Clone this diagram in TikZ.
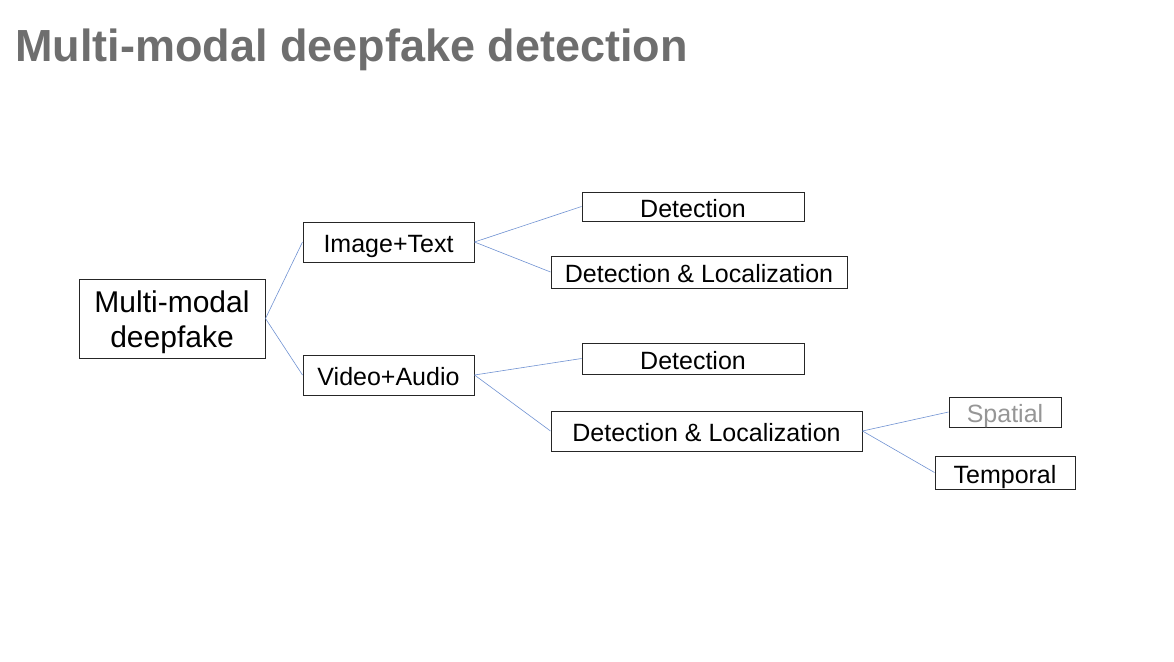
\documentclass[tikz,border=0pt]{standalone}
\usepackage{fontspec}
\setmainfont{Liberation Sans}
\definecolor{linkblue}{RGB}{112,146,210}
\definecolor{titlegray}{RGB}{110,110,110}
\definecolor{faintgray}{RGB}{150,150,150}
\begin{document}
\begin{tikzpicture}[x=1pt,y=-1pt,
  frame/.style={draw=black!85,line width=1pt,inner sep=0pt,align=center},
  box/.style={frame,text height=25pt,text depth=3.75pt,font=\fontsize{25}{29}\selectfont},
  link/.style={draw=linkblue,line width=0.6pt}]
\useasboundingbox (0,0) rectangle (1174,661);
\node[anchor=base west,text=titlegray,font=\bfseries\fontsize{45}{50}\selectfont,inner sep=0pt] (title) at (15,62) {Multi-modal deepfake detection};
\node[frame,minimum width=186pt,minimum height=79pt,font=\fontsize{30}{35}\selectfont] (root) at (172,318.5) {\rule{0pt}{30pt}Multi-modal\\deepfake};
\node[box,minimum width=171pt,minimum height=40pt] (it) at (388.5,242) {Image+Text};
\node[box,minimum width=171pt,minimum height=40pt] (va) at (388.5,375) {Video+Audio};
\node[box,minimum width=222pt,minimum height=29pt] (d1) at (693,206.5) {Detection};
\node[box,minimum width=296pt,minimum height=32pt] (dl1) at (699,272) {Detection \& Localization};
\node[box,minimum width=222pt,minimum height=31pt] (d2) at (693,358.5) {Detection};
\node[box,minimum width=311pt,minimum height=40pt] (dl2) at (706.5,431) {Detection \& Localization};
\node[box,minimum width=112pt,minimum height=30pt,text=faintgray] (sp) at (1005,412) {Spatial};
\node[box,minimum width=140pt,minimum height=33pt] (tp) at (1005,472.5) {Temporal};
\draw[link] (root.east) -- (it.west);
\draw[link] (root.east) -- (va.west);
\draw[link] (it.east) -- (d1.west);
\draw[link] (it.east) -- (dl1.west);
\draw[link] (va.east) -- (d2.west);
\draw[link] (va.east) -- (dl2.west);
\draw[link] (dl2.east) -- (sp.west);
\draw[link] (dl2.east) -- (tp.west);
\end{tikzpicture}
\end{document}
